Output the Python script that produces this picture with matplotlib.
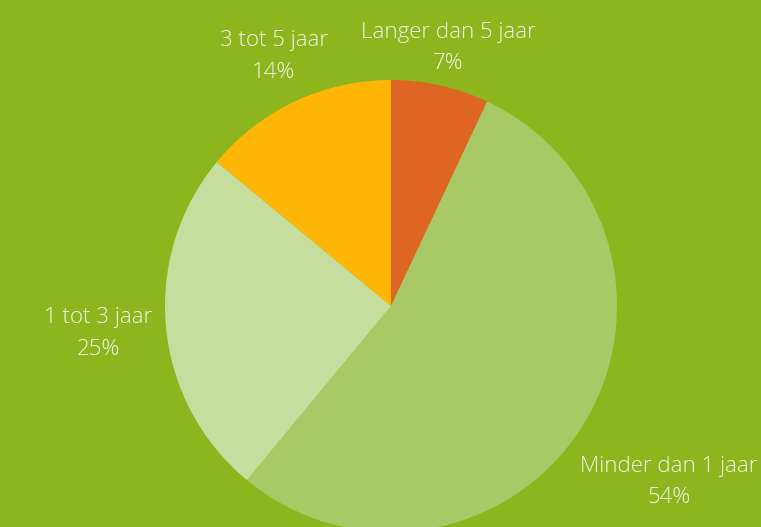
import numpy as np
import matplotlib.pyplot as plt

# Looptijd - verdeling
categorieen = ['Langer dan 5 jaar', 'Minder dan 1 jaar', '1 tot 3 jaar', '3 tot 5 jaar']
percentages = [7, 54, 25, 14]
kleuren = ['#DF6622', '#A9C966', '#C5DE9E', '#FFB606']

achtergrond = '#8DB61E'
tekstkleur = '#F2F6E4'

# afstand van label tot middelpunt (in straal)
label_afstand = [1.17, 1.455, 1.30, 1.22]

fig = plt.figure(figsize=(7.61, 5.27), dpi=100, facecolor=achtergrond)
ax = fig.add_axes([0, 0, 1, 1])
ax.set_facecolor(achtergrond)

centrum = (391, 221)
straal = 226

wedges, _ = ax.pie(percentages, colors=kleuren, startangle=90, counterclock=False,
                   center=centrum, radius=straal, frame=True,
                   wedgeprops=dict(linewidth=0))
ax.set_xlim(0, 761)
ax.set_ylim(0, 527)
ax.axis('off')

for w, naam, p, d in zip(wedges, categorieen, percentages, label_afstand):
    hoek = np.deg2rad((w.theta1 + w.theta2) / 2)
    x = centrum[0] + d * straal * np.cos(hoek)
    y = centrum[1] + d * straal * np.sin(hoek)
    ax.text(x, y, f'{naam}\n{p}%', ha='center', va='center', color=tekstkleur,
            fontsize=16, family='Open Sans', fontweight='light', linespacing=1.65)

fig.savefig('out.png', dpi=100, facecolor=achtergrond)
